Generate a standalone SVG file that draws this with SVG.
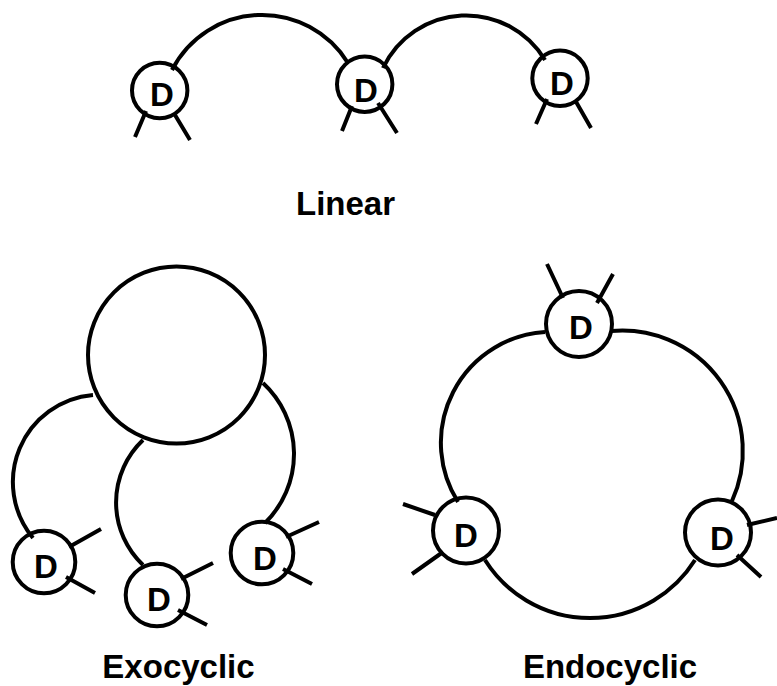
<svg xmlns="http://www.w3.org/2000/svg" width="777" height="686" viewBox="0 0 777 686">
<style>
.c{fill:#fff;stroke:#000;stroke-width:4}
.t{stroke:#000;stroke-width:4;fill:none}
.e{fill:none;stroke:#000;stroke-width:4}
.d{font-family:"Liberation Sans",Arial,sans-serif;font-weight:bold;font-size:33px;text-anchor:middle;fill:#000}
.l{font-family:"Liberation Sans",Arial,sans-serif;font-weight:bold;font-size:33px;text-anchor:middle;fill:#000}
</style>
<rect width="777" height="686" fill="#fff"/>
<!-- Linear -->
<g id="lin1"><circle class="c" cx="159.7" cy="90.5" r="27.7"/><path class="t" d="M146,111 L135,137 M175,115 L190,140"/><text class="d" x="162" y="106">D</text></g>
<g id="lin2"><circle class="c" cx="364.7" cy="84.2" r="27.7"/><path class="t" d="M352,106 L342,131 M378,103 L397,133"/><text class="d" x="366" y="102">D</text></g>
<g id="lin3"><circle class="c" cx="560" cy="78.3" r="27.7"/><path class="t" d="M547,99 L536,124 M575,100 L591,128"/><text class="d" x="562" y="95">D</text></g>
<!-- Exocyclic -->
<g id="core"><circle class="c" cx="176.5" cy="355" r="88.5"/></g>
<g id="exoA"><circle class="c" cx="44" cy="562" r="31.3"/><path class="t" d="M69,547 L101,529 M66,577 L95,593"/><text class="d" x="46" y="578">D</text></g>
<g id="exoB"><circle class="c" cx="157" cy="595" r="31.3"/><path class="t" d="M181,579 L213,563 M178,610 L207,625"/><text class="d" x="159" y="611">D</text></g>
<g id="exoC"><circle class="c" cx="262" cy="553" r="31.3"/><path class="t" d="M286,537 L319,522 M283,569 L312,584"/><text class="d" x="265" y="570">D</text></g>
<!-- Endocyclic -->
<g id="endoTop"><circle class="c" cx="579" cy="324" r="33"/><path class="t" d="M563,298 L547,264 M597,303 L613,274"/><text class="d" x="581" y="339">D</text></g>
<g id="endoLeft"><circle class="c" cx="466" cy="530.5" r="33"/><path class="t" d="M435,515 L403,504 M443,552 L412,574"/><text class="d" x="466" y="547">D</text></g>
<g id="endoRight"><circle class="c" cx="718" cy="532.5" r="33"/><path class="t" d="M747,525 L777,518 M737,555 L761,577"/><text class="d" x="722" y="550">D</text></g>
<g id="connectors">
<path class="e" d="M172,70 A101,101 0 0 1 348,63"/>
<path class="e" d="M383,68 A92,92 0 0 1 545,60"/>
<path class="e" d="M93,395 A87.5,87.5 0 0 0 33,538"/>
<path class="e" d="M143,440 A86,86 0 0 0 143,565"/>
<path class="e" d="M263,383 A96.7,96.7 0 0 1 265,523"/>
<path class="e" d="M545,332 A111,111 0 0 0 458,502"/>
<path class="e" d="M611,331 A120.6,120.6 0 0 1 732,501"/>
<path class="e" d="M485,560 A124,124 0 0 0 695,560"/>
</g>
<text class="l" x="345.5" y="215">Linear</text>
<text class="l" x="178.5" y="678">Exocyclic</text>
<text class="l" x="610" y="678">Endocyclic</text>
</svg>
